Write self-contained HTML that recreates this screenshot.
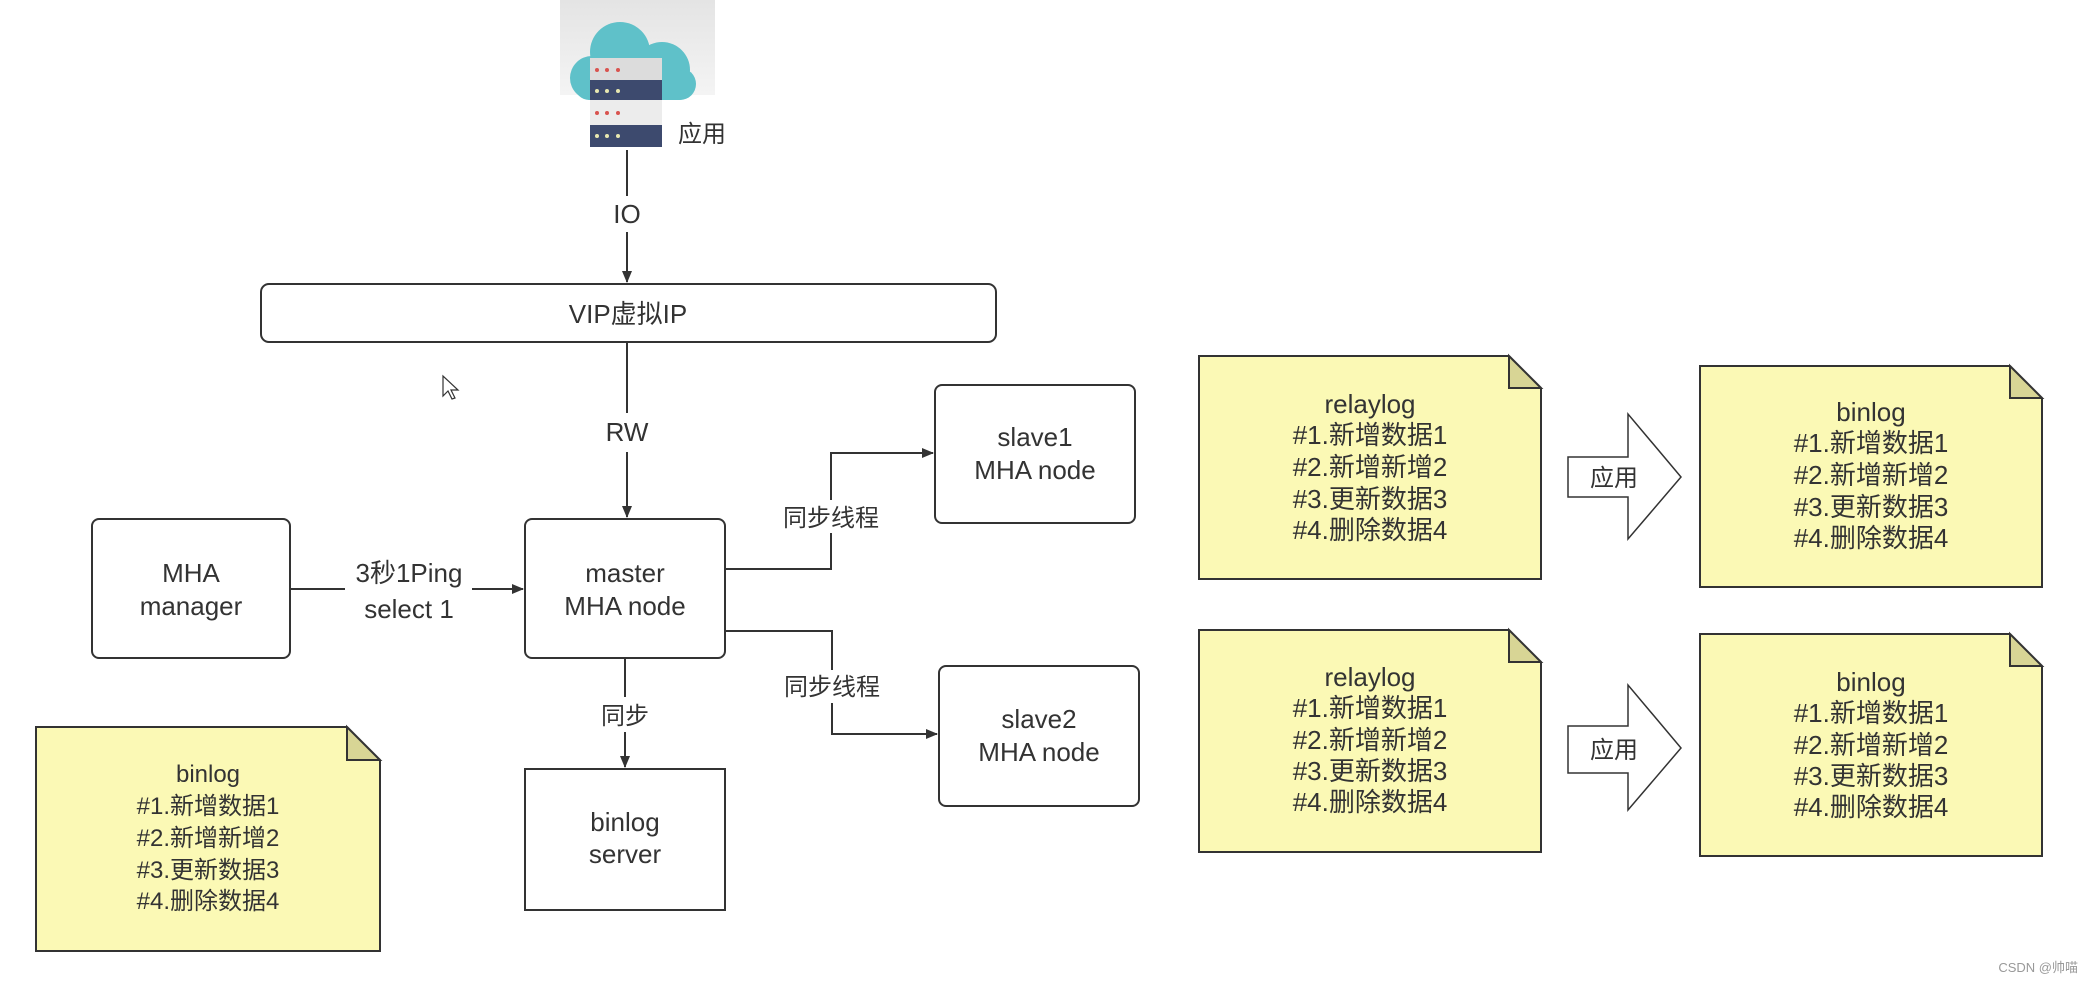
<!DOCTYPE html>
<html><head><meta charset="utf-8"><style>
html,body{margin:0;padding:0;background:#fff;overflow:hidden;}
svg{display:block;}
text{font-family:"Liberation Sans","Noto Sans CJK SC",sans-serif;fill:#333;}
</style></head><body>
<svg width="2089" height="983" viewBox="0 0 2089 983" xmlns="http://www.w3.org/2000/svg">
<defs>
<linearGradient id="g" x1="0" y1="0" x2="0" y2="1"><stop offset="0" stop-color="#e4e4e4"/><stop offset="1" stop-color="#f4f4f4"/></linearGradient>
<marker id="a" markerWidth="12" markerHeight="10" refX="11" refY="5" orient="auto" markerUnits="userSpaceOnUse"><path d="M0,0 L12,5 L0,10 z" fill="#333"/></marker>
</defs>
<rect x="560" y="0" width="155" height="95" fill="url(#g)"/>
<g fill="#5fc1c9">
<circle cx="620" cy="52" r="30"/><circle cx="592" cy="78" r="22"/><circle cx="662" cy="70" r="28"/><circle cx="680" cy="84" r="16"/>
<rect x="575" y="70" width="118" height="30" rx="14"/>
</g>
<rect x="590" y="58" width="72" height="22" fill="#dcdcdc"/>
<rect x="590" y="80" width="72" height="20" fill="#3d4a6e"/>
<rect x="590" y="100" width="72" height="25" fill="#ececec"/>
<rect x="590" y="125" width="72" height="22" fill="#3d4a6e"/>
<g fill="#d9534f"><circle cx="597" cy="70" r="2"/><circle cx="607" cy="70" r="2"/><circle cx="618" cy="70" r="2"/><circle cx="597" cy="113" r="2"/><circle cx="607" cy="113" r="2"/><circle cx="618" cy="113" r="2"/></g>
<g fill="#e8e8b0"><circle cx="597" cy="91" r="2"/><circle cx="607" cy="91" r="2"/><circle cx="618" cy="91" r="2"/><circle cx="597" cy="136" r="2"/><circle cx="607" cy="136" r="2"/><circle cx="618" cy="136" r="2"/></g>
<text x="678" y="142" font-size="24">应用</text>

<g stroke="#333" stroke-width="2" fill="none">
<line x1="627" y1="150" x2="627" y2="196"/>
<line x1="627" y1="232" x2="627" y2="282" marker-end="url(#a)"/>
<rect x="261" y="284" width="735" height="58" rx="8" fill="#fff"/>
<line x1="627" y1="342" x2="627" y2="413"/>
<line x1="627" y1="452" x2="627" y2="517" marker-end="url(#a)"/>
<rect x="92" y="519" width="198" height="139" rx="7" fill="#fff"/>
<rect x="525" y="519" width="200" height="139" rx="7" fill="#fff"/>
<rect x="935" y="385" width="200" height="138" rx="7" fill="#fff"/>
<rect x="939" y="666" width="200" height="140" rx="7" fill="#fff"/>
<rect x="525" y="769" width="200" height="141" fill="#fff"/>
<line x1="290" y1="589" x2="345" y2="589"/>
<line x1="472" y1="589" x2="523" y2="589" marker-end="url(#a)"/>
<polyline points="725,569 831,569 831,533"/>
<polyline points="831,500 831,453 933,453" marker-end="url(#a)"/>
<polyline points="725,631 832,631 832,670"/>
<polyline points="832,703 832,734 937,734" marker-end="url(#a)"/>
<line x1="625" y1="658" x2="625" y2="697"/>
<line x1="625" y1="732" x2="625" y2="767" marker-end="url(#a)"/>
</g>
<path d="M443,376 l0,20 l5,-5 l4,8 l3,-1 l-4,-8 l7,0 z" fill="#fff" stroke="#333" stroke-width="1.2"/>

<g font-size="26" text-anchor="middle">
<text x="627" y="223">IO</text>
<text x="628" y="323">VIP虚拟IP</text>
<text x="627" y="441">RW</text>
<text x="191" y="582">MHA</text><text x="191" y="615">manager</text>
<text x="409" y="582">3秒1Ping</text><text x="409" y="618">select 1</text>
<text x="625" y="582">master</text><text x="625" y="615">MHA node</text>
<text x="1035" y="446">slave1</text><text x="1035" y="479">MHA node</text>
<text x="1039" y="728">slave2</text><text x="1039" y="761">MHA node</text>
<text x="625" y="831">binlog</text><text x="625" y="863">server</text>
<text x="831" y="526" font-size="24">同步线程</text>
<text x="832" y="695" font-size="24">同步线程</text>
<text x="625" y="724" font-size="24">同步</text>
</g>

<g stroke="#333" stroke-width="2">
<path d="M36,727 L347,727 L380,760 L380,951 L36,951 Z" fill="#fbf9b5"/>
<path d="M347,727 L347,760 L380,760 Z" fill="#d8d595"/>
<path d="M1199,356 L1509,356 L1541,388 L1541,579 L1199,579 Z" fill="#fbf9b5"/>
<path d="M1509,356 L1509,388 L1541,388 Z" fill="#d8d595"/>
<path d="M1700,366 L2010,366 L2042,398 L2042,587 L1700,587 Z" fill="#fbf9b5"/>
<path d="M2010,366 L2010,398 L2042,398 Z" fill="#d8d595"/>
<path d="M1199,630 L1509,630 L1541,662 L1541,852 L1199,852 Z" fill="#fbf9b5"/>
<path d="M1509,630 L1509,662 L1541,662 Z" fill="#d8d595"/>
<path d="M1700,634 L2010,634 L2042,666 L2042,856 L1700,856 Z" fill="#fbf9b5"/>
<path d="M2010,634 L2010,666 L2042,666 Z" fill="#d8d595"/>
</g>
<g stroke="#333" stroke-width="1.5" fill="#fff">
<path d="M1568,457 L1628,457 L1628,414 L1681,477 L1628,539 L1628,497 L1568,497 Z"/>
<path d="M1568,726 L1628,726 L1628,685 L1681,748 L1628,810 L1628,773 L1568,773 Z"/>
</g>
<g font-size="24" text-anchor="middle">
<text x="1614" y="486">应用</text>
<text x="1614" y="758">应用</text>
</g>
<g font-size="24" text-anchor="middle">
<text x="208" y="782">binlog</text><text x="208" y="814">#1.新增数据1</text><text x="208" y="846">#2.新增新增2</text><text x="208" y="878">#3.更新数据3</text><text x="208" y="909">#4.删除数据4</text>
</g>
<g font-size="26" text-anchor="middle">
<text x="1370" y="413">relaylog</text><text x="1370" y="444">#1.新增数据1</text><text x="1370" y="476">#2.新增新增2</text><text x="1370" y="508">#3.更新数据3</text><text x="1370" y="539">#4.删除数据4</text>
<text x="1871" y="421">binlog</text><text x="1871" y="452">#1.新增数据1</text><text x="1871" y="484">#2.新增新增2</text><text x="1871" y="516">#3.更新数据3</text><text x="1871" y="547">#4.删除数据4</text>
<text x="1370" y="686">relaylog</text><text x="1370" y="717">#1.新增数据1</text><text x="1370" y="749">#2.新增新增2</text><text x="1370" y="780">#3.更新数据3</text><text x="1370" y="811">#4.删除数据4</text>
<text x="1871" y="691">binlog</text><text x="1871" y="722">#1.新增数据1</text><text x="1871" y="754">#2.新增新增2</text><text x="1871" y="785">#3.更新数据3</text><text x="1871" y="816">#4.删除数据4</text>
</g>
<text x="2078" y="972" font-size="13" text-anchor="end" style="fill:#999">CSDN @帅喵</text>
</svg>
</body></html>
